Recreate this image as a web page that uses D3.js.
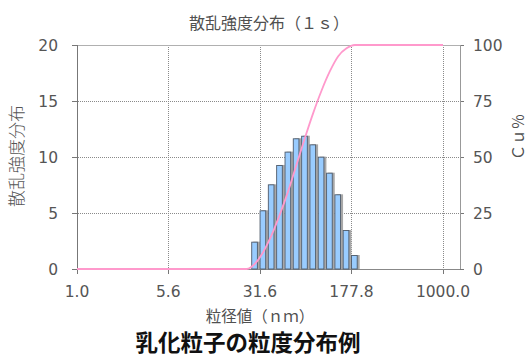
<!DOCTYPE html>
<html><head><meta charset="utf-8">
<script src="https://cdn.jsdelivr.net/npm/d3@7"></script>
<style>html,body{margin:0;padding:0;background:#fff;}</style>
</head><body>
<script>
// ---- data ----
const sizes = [28.8, 33.7, 39.4, 46.1, 54.0, 63.1, 73.9, 86.4, 101.1, 118.3, 138.4, 161.9, 189.5];
const intensity = [2.44, 5.24, 7.56, 9.29, 10.48, 11.67, 11.9, 11.13, 10.03, 8.6, 6.67, 3.48, 1.25];
const cumSizes = [1.0, 24.6, 28.8, 33.7, 39.4, 46.1, 54.0, 63.1, 73.9, 86.4, 101.1, 118.3, 138.4, 161.9, 189.5, 1000];
const cumValues = [0, 0, 2.4, 7.7, 15.2, 24.5, 35.0, 46.7, 58.6, 69.7, 79.7, 88.3, 95.0, 98.5, 100, 100];
const xTicks = [1.0, 5.6, 31.6, 177.8, 1000.0];
const xTickLabels = ["1.0", "5.6", "31.6", "177.8", "1000.0"];
const yTicks = [0, 5, 10, 15, 20];
const y2Ticks = [0, 25, 50, 75, 100];
const title = "散乱強度分布（１ｓ）";
const yLabel = "散乱強度分布";
const y2Label = "Ｃｕ％";
const xLabel = "粒径値（ｎｍ）";
const caption = "乳化粒子の粒度分布例";

const W = 528, H = 357;
const L = 77, R = 460, T = 45, B = 269;
const svg = d3.select("body").append("svg").attr("width", W).attr("height", H);

const x = d3.scaleLog().domain([1, 1378]).range([L, R]);
const y = d3.scaleLinear().domain([0, 20]).range([B, T]);
const y2 = d3.scaleLinear().domain([0, 100]).range([B, T]);

const numFont = "'DejaVu Sans', sans-serif";
const jpFont = "'Noto Sans CJK JP', sans-serif";
const grey = "#555";

// grid
const g = svg.append("g");
g.selectAll("line.hg").data(yTicks.filter(d => d > 0 && d < 20)).join("line")
  .attr("x1", L - 5).attr("x2", R + 4).attr("y1", d => Math.round(y(d)) + 0.5).attr("y2", d => Math.round(y(d)) + 0.5)
  .attr("stroke", "#8a8a8a").attr("stroke-dasharray", "1,1");
g.selectAll("line.vg").data(xTicks.filter(d => d > 1)).join("line")
  .attr("x1", d => Math.round(x(d)) + 0.5).attr("x2", d => Math.round(x(d)) + 0.5).attr("y1", T).attr("y2", B + 5)
  .attr("stroke", "#8a8a8a").attr("stroke-dasharray", "1,1");
// tick marks solid outside
yTicks.forEach(v => {
  g.append("line").attr("x1", L - 5).attr("x2", L).attr("y1", Math.round(y(v)) + 0.5).attr("y2", Math.round(y(v)) + 0.5).attr("stroke", "#777");
  g.append("line").attr("x1", R).attr("x2", R + 4).attr("y1", Math.round(y(v)) + 0.5).attr("y2", Math.round(y(v)) + 0.5).attr("stroke", "#777");
});
xTicks.forEach(v => {
  g.append("line").attr("x1", Math.round(x(v)) + 0.5).attr("x2", Math.round(x(v)) + 0.5).attr("y1", B).attr("y2", B + 5).attr("stroke", "#777");
});

// frame
svg.append("line").attr("x1", L).attr("x2", R).attr("y1", T + 0.5).attr("y2", T + 0.5).attr("stroke", "#b0b0b0");
svg.append("line").attr("x1", L + 0.5).attr("x2", L + 0.5).attr("y1", T).attr("y2", B).attr("stroke", "#777");
svg.append("line").attr("x1", R + 0.5).attr("x2", R + 0.5).attr("y1", T).attr("y2", B).attr("stroke", "#999");
svg.append("line").attr("x1", L).attr("x2", R).attr("y1", B + 0.5).attr("y2", B + 0.5).attr("stroke", "#888");

// bars
const pitch = x(sizes[1]) - x(sizes[0]);
const bw = pitch * 0.8;
const bars = svg.append("g");
bars.selectAll("rect.sh").data(sizes).join("rect")
  .attr("x", d => x(d) - bw / 2 + 1.5).attr("width", bw)
  .attr("y", (d, i) => y(intensity[i])).attr("height", (d, i) => B - y(intensity[i]))
  .attr("fill", "#a8a8a8");
bars.selectAll("rect.b").data(sizes).join("rect")
  .attr("x", d => x(d) - bw / 2).attr("width", bw - 1)
  .attr("y", (d, i) => y(intensity[i]) + 0.5).attr("height", (d, i) => B - y(intensity[i]) - 0.5)
  .attr("fill", "#99ccff").attr("stroke", "#4f5b6b").attr("stroke-width", 0.9);

// cumulative curve
const line = d3.line().x((d, i) => x(cumSizes[i])).y(d => y2(d)).curve(d3.curveMonotoneX);
svg.append("path").datum(cumValues).attr("d", line)
  .attr("fill", "none").attr("stroke", "#ff99cc").attr("stroke-width", 1.8);

// tick labels
svg.selectAll("text.yl").data(yTicks).join("text")
  .attr("x", 58).attr("y", d => y(d) + 5.5).attr("text-anchor", "end")
  .attr("font-family", numFont).attr("font-size", 15.5).attr("fill", grey).text(d => d);
svg.selectAll("text.y2l").data(y2Ticks).join("text")
  .attr("x", 473).attr("y", d => y2(d) + 5.5).attr("text-anchor", "start")
  .attr("font-family", numFont).attr("font-size", 15.5).attr("fill", grey).text(d => d);
svg.selectAll("text.xl").data(xTicks).join("text")
  .attr("x", d => x(d)).attr("y", 297).attr("text-anchor", "middle")
  .attr("font-family", numFont).attr("font-size", 15.5).attr("fill", grey)
  .text((d, i) => xTickLabels[i]);

// titles
svg.append("text").attr("x", 269).attr("y", 29).attr("text-anchor", "middle")
  .attr("font-family", jpFont).attr("font-size", 16).attr("fill", "#505050").text(title);
svg.append("text").attr("transform", "translate(23,156) rotate(-90)").attr("text-anchor", "middle")
  .attr("font-family", jpFont).attr("font-size", 17).attr("font-weight", 300).attr("fill", "#555").text(yLabel);
svg.append("text").attr("transform", "translate(524,137) rotate(-90)").attr("text-anchor", "middle")
  .attr("font-family", jpFont).attr("font-size", 15.5).attr("fill", "#505050").text(y2Label);
svg.append("text").attr("x", 260).attr("y", 322).attr("text-anchor", "middle")
  .attr("font-family", jpFont).attr("font-size", 15.5).attr("fill", "#505050").text(xLabel);
svg.append("text").attr("x", 248).attr("y", 351).attr("text-anchor", "middle")
  .attr("font-family", jpFont).attr("font-size", 22.5).attr("font-weight", "bold").attr("fill", "#111").text(caption);
</script>
</body></html>
